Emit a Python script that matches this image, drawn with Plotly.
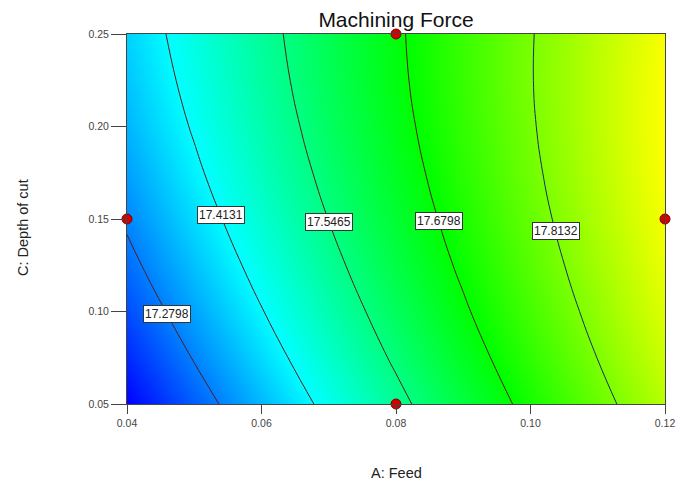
import numpy as np
import plotly.graph_objects as go

# ---- data ----
feed = [0.04, 0.05, 0.06, 0.07, 0.08, 0.09, 0.10, 0.11, 0.12]
depth = [0.05, 0.075, 0.10, 0.125, 0.15, 0.175, 0.20, 0.225, 0.25]
force = [
    [17.1475, 17.2448, 17.3403, 17.4338, 17.5255, 17.6153, 17.7033, 17.7893, 17.8735],
    [17.1891, 17.2840, 17.3771, 17.4683, 17.5576, 17.6450, 17.7306, 17.8143, 17.8961],
    [17.2266, 17.3192, 17.4099, 17.4987, 17.5856, 17.6707, 17.7539, 17.8352, 17.9146],
    [17.2602, 17.3504, 17.4387, 17.5251, 17.6097, 17.6924, 17.7732, 17.8521, 17.9292],
    [17.2897, 17.3775, 17.4635, 17.5475, 17.6297, 17.7100, 17.7885, 17.8650, 17.9397],
    [17.3152, 17.4007, 17.4842, 17.5659, 17.6457, 17.7237, 17.7997, 17.8739, 17.9462],
    [17.3367, 17.4198, 17.5010, 17.5803, 17.6577, 17.7333, 17.8070, 17.8788, 17.9487],
    [17.3542, 17.4349, 17.5137, 17.5907, 17.6657, 17.7389, 17.8102, 17.8797, 17.9472],
    [17.3677, 17.4460, 17.5224, 17.5970, 17.6697, 17.7405, 17.8095, 17.8765, 17.9417],
]
levels = [17.2798, 17.4131, 17.5465, 17.6798, 17.8132]
level_labels = ["17.2798", "17.4131", "17.5465", "17.6798", "17.8132"]
label_depth = [0.0985, 0.152, 0.1484, 0.149, 0.1435]
level_colors = ["#5a1a1a", "#5a1a1a", "#5a1a1a", "#5a1a1a", "#1a2a6a"]

design_feed = [0.04, 0.08, 0.08, 0.12]
design_depth = [0.15, 0.25, 0.05, 0.15]

x_ticks = [0.04, 0.06, 0.08, 0.10, 0.12]
x_ticktext = ["0.04", "0.06", "0.08", "0.10", "0.12"]
y_ticks = [0.05, 0.10, 0.15, 0.20, 0.25]
y_ticktext = ["0.05", "0.10", "0.15", "0.20", "0.25"]

title = "Machining Force"
x_title = "A: Feed"
y_title = "C: Depth of cut"

Z = np.array(force)
zmin, zmax = float(Z.min()), float(Z.max())

colorscale = [[0.0, "#0000ff"], [1/3, "#00ffff"], [2/3, "#00ff00"], [1.0, "#ffff00"]]

fig = go.Figure()
fig.add_trace(go.Contour(
    x=feed, y=depth, z=force,
    colorscale=colorscale, zmin=zmin, zmax=zmax,
    contours=dict(coloring="heatmap", showlines=False, start=zmin, end=zmax, size=(zmax - zmin)),
    line=dict(width=0),
    autocontour=False, showscale=False, hoverinfo="skip",
))

for lvl, col in zip(levels, level_colors):
    fig.add_trace(go.Contour(
        x=feed, y=depth, z=force,
        autocontour=False,
        contours=dict(start=lvl, end=lvl, size=1, coloring="none", showlabels=False),
        line=dict(color=col, width=1, smoothing=1.3),
        showscale=False, hoverinfo="skip",
    ))

fig.add_trace(go.Scatter(
    x=design_feed, y=design_depth, mode="markers",
    marker=dict(color="#d40000", size=10, line=dict(color="#7a0000", width=1)),
    cliponaxis=False, hoverinfo="skip", showlegend=False,
))

# label positions: along the given depth, find where the interpolated surface hits the level
annotations = []
for lvl, txt, yd in zip(levels, level_labels, label_depth):
    row = np.array([np.interp(yd, depth, Z[:, i]) for i in range(len(feed))])
    xd = float(np.interp(lvl, row, feed))
    annotations.append(dict(
        x=xd, y=yd, xref="x", yref="y", text=txt, showarrow=False,
        font=dict(family="Liberation Sans, Arial", size=12, color="#222"),
        bgcolor="white", bordercolor="#333", borderwidth=1, borderpad=1,
    ))

annotations.append(dict(
    x=0.5, y=0, xref="paper", yref="paper", yanchor="middle", xanchor="center",
    yshift=-69, text=x_title, showarrow=False,
    font=dict(family="Liberation Sans, Arial", size=14.5, color="#222"),
))
annotations.append(dict(
    x=0, y=(404 - 228) / 370, xref="paper", yref="paper", xanchor="center", yanchor="middle",
    xshift=-104, text=y_title, textangle=-90, showarrow=False,
    font=dict(family="Liberation Sans, Arial", size=14.5, color="#222"),
))

fig.update_layout(
    width=681, height=484,
    margin=dict(l=127, r=16, t=34, b=80, autoexpand=False),
    paper_bgcolor="white", plot_bgcolor="white",
    title=dict(text=title, x=396 / 681, xanchor="center", y=1 - 20 / 484, yanchor="middle",
               font=dict(family="Liberation Sans, Arial", size=21, color="#111")),
    showlegend=False,
    annotations=annotations,
    xaxis=dict(range=[0.04, 0.12], tickvals=x_ticks, ticktext=x_ticktext,
               ticks="outside", ticklen=9, tickcolor="#444", tickwidth=1,
               showline=True, linecolor="#444", linewidth=1, mirror=True,
               showgrid=False, zeroline=False, automargin=False, ticklabeloverflow="allow",
               tickfont=dict(family="Liberation Sans, Arial", size=10.5, color="#444")),
    yaxis=dict(range=[0.05, 0.25], tickvals=y_ticks, ticktext=y_ticktext,
               ticks="outside", ticklen=15, tickcolor="#444", tickwidth=1,
               showline=True, linecolor="#444", linewidth=1, mirror=True,
               showgrid=False, zeroline=False, automargin=False,
               tickfont=dict(family="Liberation Sans, Arial", size=10.5, color="#444")),
)

fig.write_html("out.html")
